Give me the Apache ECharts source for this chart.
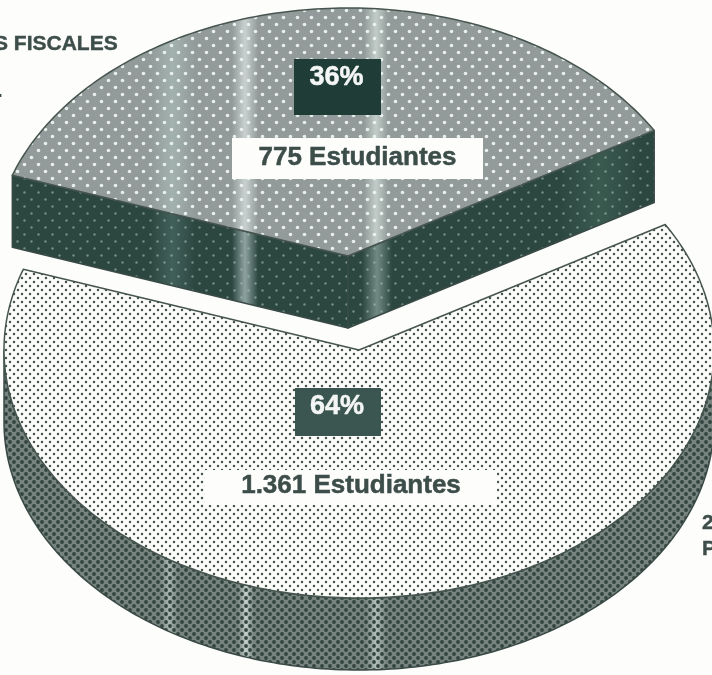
<!DOCTYPE html>
<html>
<head>
<meta charset="utf-8">
<style>
html,body{margin:0;padding:0;background:#fdfdfb;overflow:hidden}
#chart{width:712px;height:675px;filter:blur(0.55px)}
</style>
<script src="https://cdn.jsdelivr.net/npm/echarts@6/dist/echarts.min.js"></script>
</head>
<body>
<div id="chart"></div>
<script>
// Data
const students = [775, 1361];
const studentLabels = ['775 Estudiantes', '1.361 Estudiantes'];
const percentLabels = ['36%', '64%'];

// Layout and styling
const radiusX = 355, radiusY = 248, depth = 72, startDeg = 30.4;
const centers = [[348, 256], [359, 350]];
const pctBoxes = [[294, 59, 87, 56, 78], [295, 388, 86, 48, 407]];
const nameBoxes = [[232, 138, 251, 41, 158], [205, 470, 292, 35, 486]];
const ink = '#3d4e4a';

function dots(tile, bg, color, r) {
  const c = document.createElement('canvas');
  c.width = c.height = tile;
  const g = c.getContext('2d');
  if (bg) { g.fillStyle = bg; g.fillRect(0, 0, tile, tile); }
  g.fillStyle = color;
  [[tile / 4, tile / 4], [tile * 3 / 4, tile * 3 / 4]].forEach(p => {
    g.beginPath(); g.arc(p[0], p[1], r, 0, Math.PI * 2); g.fill();
  });
  return { image: c, repeat: 'repeat' };
}
function bands(base, list) {
  const stops = [{ offset: 0, color: base }];
  list.forEach(b => {
    const [x0, x1, col] = b, m = (x0 + x1) / 2;
    stops.push({ offset: x0 / 712, color: base });
    stops.push({ offset: m / 712, color: col });
    stops.push({ offset: x1 / 712, color: base });
  });
  stops.push({ offset: 1, color: base });
  return new echarts.graphic.LinearGradient(0, 0, 712, 0, stops, true);
}
const faceFill = [
  bands('#929b99', [[150, 195, '#a3b2af'], [232, 258, '#c8d1cf'], [364, 388, '#c2cdca']]),
  '#fcfcfa'
];
const sideFill = [
  bands('#2c4740', [[150, 195, '#42605a'], [232, 258, '#8ea3a0'], [362, 392, '#718a84'], [560, 640, '#3a5a50']]),
  bands('#76837f', [[160, 178, '#aab6b3'], [238, 254, '#c4cfcc'], [366, 386, '#b2bfbb']])
];
const faceDots = [
  dots(14, null, 'rgba(236,243,241,0.95)', 1.8),
  dots(8, null, '#47554f', 1.25)
];
const sideDots = [
  dots(14, null, 'rgba(165,190,184,0.6)', 1.2),
  dots(8, null, '#33443f', 1.9)
];

function arc(c, a0, a1, dy) {
  const pts = [], n = Math.ceil(Math.abs(a1 - a0));
  for (let i = 0; i <= n; i++) {
    const t = (a0 + (a1 - a0) * i / n) * Math.PI / 180;
    pts.push([c[0] + radiusX * Math.cos(t), c[1] - radiusY * Math.sin(t) + dy]);
  }
  return pts;
}
const total = students.reduce((a, b) => a + b, 0);

function renderSlice(params, api) {
  const i = params.dataIndex;
  let before = 0;
  for (let k = 0; k < i; k++) before += students[k];
  const v = api.value(0);
  const a0 = startDeg + before / total * 360;
  const a1 = a0 + v / total * 360;
  const c = centers[i];
  const face = arc(c, a0, a1, 0).concat([c]);
  const sides = [];
  if (i === 0) {
    const L = face[face.length - 2], R = face[0];
    sides.push([L, c, [c[0], c[1] + depth], [L[0], L[1] + depth]]);
    sides.push([R, c, [c[0], c[1] + depth], [R[0], R[1] + depth]]);
  } else {
    const front = arc(c, 180, 360, 0);
    const back = arc(c, 360, 180, depth);
    sides.push(front.concat(back));
  }
  const children = [];
  const poly = (points, fill, stroke) => children.push({
    type: 'polygon', shape: { points },
    style: { fill, stroke: stroke || 'none', lineWidth: stroke ? 1.5 : 0, lineJoin: 'round' }
  });
  sides.forEach(s => {
    poly(s, sideFill[i]);
    poly(s, sideDots[i], '#3a4a46');
  });
  poly(face, faceFill[i]);
  poly(face, faceDots[i], '#46554f');

  const p = pctBoxes[i], b = nameBoxes[i];
  children.push({ type: 'rect', shape: { x: p[0], y: p[1], width: p[2], height: p[3] },
    style: { fill: i === 0 ? '#1f3d36' : '#3b5650' } });
  children.push({ type: 'text', style: { text: percentLabels[i], x: p[0] + p[2] / 2 - 1, y: p[4],
    align: 'center', verticalAlign: 'middle', fill: '#f4f6f5', stroke: '#f4f6f5', lineWidth: 0.5,
    font: 'bold 27px "Liberation Sans", Arial, sans-serif' } });
  children.push({ type: 'rect', shape: { x: b[0], y: b[1], width: b[2], height: b[3] },
    style: { fill: '#fdfdfb' } });
  children.push({ type: 'text', style: { text: studentLabels[i], x: b[0] + b[2] / 2, y: b[4],
    align: 'center', verticalAlign: 'middle', fill: ink, stroke: ink, lineWidth: 0.5,
    font: 'bold 26px "Liberation Sans", Arial, sans-serif' } });
  return { type: 'group', children };
}

const sideFont = 'bold 21px "Liberation Sans", Arial, sans-serif';
const chart = echarts.init(document.getElementById('chart'), null, { renderer: 'canvas' });
chart.setOption({
  animation: false,
  backgroundColor: '#fdfdfb',
  series: [{
    type: 'custom',
    coordinateSystem: 'none',
    renderItem: renderSlice,
    clip: false,
    data: students.map(v => [v])
  }],
  graphic: [
    { type: 'text', style: { text: 'S FISCALES', x: -6, y: 44, verticalAlign: 'middle', fill: ink, stroke: ink, lineWidth: 0.4, font: sideFont } },
    { type: 'text', style: { text: '.', x: -3, y: 91, verticalAlign: 'middle', fill: ink, font: sideFont } },
    { type: 'text', style: { text: '2', x: 702, y: 523, verticalAlign: 'middle', fill: ink, stroke: ink, lineWidth: 0.4, font: sideFont } },
    { type: 'text', style: { text: 'P', x: 702, y: 549, verticalAlign: 'middle', fill: ink, stroke: ink, lineWidth: 0.4, font: sideFont } }
  ]
});
</script>
</body>
</html>
